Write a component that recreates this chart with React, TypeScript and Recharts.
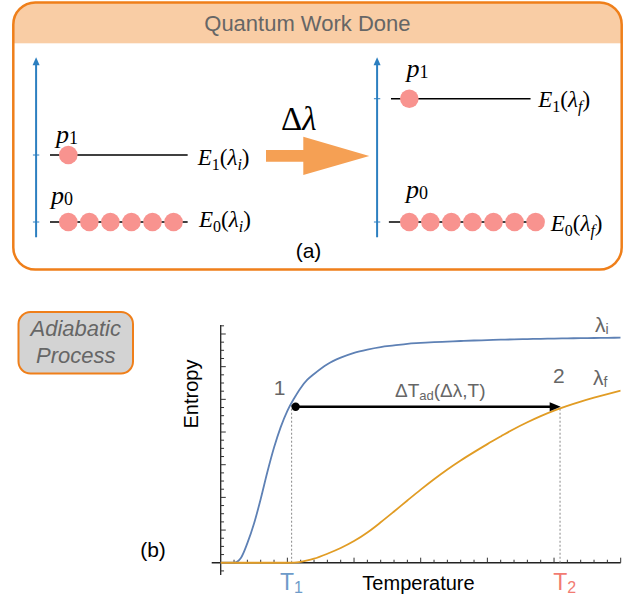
import { LineChart, Line, XAxis, YAxis, ReferenceLine, ReferenceDot, ScatterChart, Scatter } from "recharts";

// panel (b): temperature in minor-tick units, entropy in minor-tick units
const temperature = [0, 1, 1.5, 2, 2.5, 3, 3.5, 4, 4.5, 5, 5.5, 6, 6.5, 7, 8, 9, 10, 11, 12, 13, 14, 15, 16, 17, 18, 19, 20, 21, 22, 23, 24, 25, 26, 27, 28, 29, 30];
const entropyInitial = [0, 0, 0.55, 2.4, 4.8, 7.8, 11.1, 14.1, 16.6, 18.6, 20.1, 21.4, 22.4, 23.1, 24.3, 25.1, 25.7, 26.1, 26.4, 26.6, 26.8, 26.9, 27.0, 27.07, 27.14, 27.2, 27.25, 27.3, 27.34, 27.38, 27.41, 27.44, 27.47, 27.49, 27.51, 27.53, 27.55];
const entropyFinal = [0, 0, 0, 0, 0, 0, 0, 0, 0, 0, 0.02, 0.12, 0.28, 0.5, 1.1, 1.8, 2.65, 3.7, 4.95, 6.27, 7.62, 8.95, 10.22, 11.42, 12.52, 13.54, 14.52, 15.46, 16.38, 17.2, 17.95, 18.62, 19.2, 19.72, 20.2, 20.65, 21.08];

const xTicks = [1, 2, 3, 4, 5, 6, 7, 8, 9, 10, 11, 12, 13, 14, 15, 16, 17, 18, 19, 20, 21, 22, 23, 24, 25, 26, 27, 28, 29, 30];
const yTicks = [-1, 1, 2, 3, 4, 5, 6, 7, 8, 9, 10, 11, 12, 13, 14, 15, 16, 17, 18, 19, 20, 21, 22, 23, 24, 25, 26, 27, 28, 29];

// adiabatic step 1 -> 2
const t1 = 5.32;
const t2 = 25.45;
const s1 = 19.5;
const s2 = 18.9;
const sArrow = 19.09;
const arrowStart = 5.62;
const arrowEnd = 25.5;

// panel (a): two-level system
const initialEnergy = [0, 1];
const finalEnergy = [0, 1.84];
const initialPopulation = [6, 1];
const finalPopulation = [7, 1];

const SANS = "'Liberation Sans', Arial, sans-serif";
const SERIF = "'Liberation Serif', 'Times New Roman', serif";
const GRAY = "#666";
const ORANGE = "#EF7F1A";
const AXIS_BLUE = "#2C7FC0";

const rows = temperature.map((t, i) => ({ t, si: entropyInitial[i], sf: entropyFinal[i] }));

function Ball(props: any) {
  return <circle cx={props.cx} cy={props.cy} r={9.3} fill="#F8938F" />;
}

function UpHead(props: any) {
  const { cx, cy } = props;
  return <path d={`M${cx},${cy} L${cx - 3.5},${cy + 8} L${cx + 3.5},${cy + 8} Z`} fill={AXIS_BLUE} />;
}

function RightHead(props: any) {
  const { cx, cy } = props;
  return <path d={`M${cx},${cy} L${cx - 11},${cy - 4.5} L${cx - 11},${cy + 4.5} Z`} fill="#000" />;
}

function LevelDiagram({ energies, population, spans, left, marginLeft }: any) {
  const dots = energies.flatMap((e: number, k: number) =>
    Array.from({ length: population[k] }, (_, i) => ({ x: i, y: e }))
  );
  const axisX = -1.53;
  return (
    <div style={{ position: "absolute", left, top: 0 }}>
      <ScatterChart width={300} height={270} margin={{ top: 54.5, bottom: 31.25, left: marginLeft, right: 300 - marginLeft - 210.5 }}>
        <XAxis type="number" dataKey="x" domain={[-2, 8]} hide allowDataOverflow />
        <YAxis type="number" dataKey="y" domain={[-0.25, 2.5]} hide allowDataOverflow />
        <ReferenceLine segment={[{ x: axisX, y: -0.228 }, { x: axisX, y: 2.35 }]} stroke={AXIS_BLUE} strokeWidth={2} />
        <ReferenceDot x={axisX} y={2.458} r={4} shape={UpHead} />
        {energies.map((e: number, k: number) => (
          <ReferenceLine key={"tk" + k} segment={[{ x: axisX - 0.15, y: e }, { x: axisX + 0.15, y: e }]} stroke={AXIS_BLUE} strokeWidth={1} />
        ))}
        {energies.map((e: number, k: number) => (
          <ReferenceLine key={"lv" + k} segment={[{ x: spans[k][0], y: e }, { x: spans[k][1], y: e }]} stroke="#000" strokeWidth={1.5} />
        ))}
        <Scatter data={dots} shape={Ball} isAnimationActive={false} />
      </ScatterChart>
    </div>
  );
}

function LevelLabel({ x, y, n, arg }: { x: number; y: number; n: string; arg: string }) {
  return (
    <text x={x} y={y} fontFamily={SERIF} fontSize={23} fill="#000">
      <tspan fontStyle="italic">E</tspan>
      <tspan fontSize={16} dy={5}>{n}</tspan>
      <tspan dy={-5}>(</tspan>
      <tspan fontStyle="italic">λ</tspan>
      <tspan fontStyle="italic" fontSize={16} dy={5}>{arg}</tspan>
      <tspan dy={-5}>)</tspan>
    </text>
  );
}

function PLabel({ x, y, n }: { x: number; y: number; n: string }) {
  return (
    <text x={x} y={y} fontFamily={SERIF} fontSize={26} fill="#000">
      <tspan fontStyle="italic">p</tspan>
      <tspan fontSize={18} dy={1}>{n}</tspan>
    </text>
  );
}

export default function App() {
  return (
    <div style={{ position: "absolute", left: 0, top: 0, width: 634, height: 601, background: "#fff", overflow: "hidden" }}>
      <svg width={634} height={601} style={{ position: "absolute", left: 0, top: 0 }}>
        <defs>
          <clipPath id="boxClip">
            <rect x={13.3} y={2.5} width={608.4} height={267} rx={22} />
          </clipPath>
        </defs>
        <rect x={13.3} y={2.5} width={608.4} height={267} rx={22} fill="#fff" />
        <rect x={0} y={0} width={634} height={43.3} fill="#F9CDA5" clipPath="url(#boxClip)" />
        <rect x={13.3} y={2.5} width={608.4} height={267} rx={22} fill="none" stroke={ORANGE} strokeWidth={2.5} />
        <text x={307.4} y={31} textAnchor="middle" fontFamily={SANS} fontSize={22} fill={GRAY}>Quantum Work Done</text>

        <polygon points="266,150 303.3,150 303.3,136.7 369.3,156 303.3,175 303.3,161.7 266,161.7" fill="#F5A054" />
        <text x={281} y={130} fontFamily={SERIF} fontSize={33} fill="#000">
          <tspan>Δ</tspan>
          <tspan fontStyle="italic">λ</tspan>
        </text>

        <PLabel x={56} y={143.3} n="1" />
        <PLabel x={51} y={204.3} n="0" />
        <LevelLabel x={197.7} y={165} n="1" arg="i" />
        <LevelLabel x={199} y={227} n="0" arg="i" />
        <PLabel x={406.5} y={77.3} n="1" />
        <PLabel x={406} y={198.3} n="0" />
        <LevelLabel x={538.3} y={106.5} n="1" arg="f" />
        <LevelLabel x={550.7} y={231} n="0" arg="f" />
        <text x={308.5} y={258} textAnchor="middle" fontFamily={SANS} fontSize={21} fill="#000">(a)</text>

        <rect x={18.5} y={312} width={114.5} height={61.5} rx={12} fill="#D3D3D3" stroke={ORANGE} strokeWidth={2} />
        <text x={75.75} y={336} textAnchor="middle" fontFamily={SANS} fontSize={22} fontStyle="italic" fill={GRAY}>Adiabatic</text>
        <text x={75.75} y={363} textAnchor="middle" fontFamily={SANS} fontSize={22} fontStyle="italic" fill={GRAY}>Process</text>
        <text x={153} y={557} textAnchor="middle" fontFamily={SANS} fontSize={21} fill="#000">(b)</text>

        <text transform="translate(197.5,394) rotate(-90)" textAnchor="middle" fontFamily={SANS} fontSize={20} fill="#000">Entropy</text>
        <text x={418.5} y={590} textAnchor="middle" fontFamily={SANS} fontSize={20} fill="#000">Temperature</text>
        <text x={280} y={590.3} fontFamily={SANS} fontSize={23} fill="#6E9BC9">
          <tspan>T</tspan>
          <tspan fontSize={16} dy={3}>1</tspan>
        </text>
        <text x={553.3} y={590.3} fontFamily={SANS} fontSize={23} fill="#F27B72">
          <tspan>T</tspan>
          <tspan fontSize={16} dy={3}>2</tspan>
        </text>
        <text x={279.5} y={395} textAnchor="middle" fontFamily={SANS} fontSize={21} fill={GRAY}>1</text>
        <text x={558.8} y={383.3} textAnchor="middle" fontFamily={SANS} fontSize={21} fill={GRAY}>2</text>
        <text x={595} y={332} fontFamily={SANS} fontSize={21} fill={GRAY}>
          <tspan>λ</tspan>
          <tspan fontSize={14} dy={2}>i</tspan>
        </text>
        <text x={593} y={385} fontFamily={SANS} fontSize={21} fill={GRAY}>
          <tspan>λ</tspan>
          <tspan fontSize={14} dy={2}>f</tspan>
        </text>
        <text x={395} y={397} fontFamily={SANS} fontSize={19} fill={GRAY}>
          <tspan>ΔT</tspan>
          <tspan fontSize={13} dy={3}>ad</tspan>
          <tspan dy={-3}>(Δλ,T)</tspan>
        </text>
      </svg>

      <LevelDiagram energies={initialEnergy} population={initialPopulation} spans={[[-0.87, 5.67], [-0.87, 5.67]]} left={0} marginLeft={26.2} />
      <LevelDiagram energies={finalEnergy} population={finalPopulation} spans={[[-0.97, 6.22], [-0.87, 5.76]]} left={320} marginLeft={47.2} />

      <div style={{ position: "absolute", left: 0, top: 290 }}>
        <LineChart width={634} height={311} data={rows} margin={{ top: 35, right: 13.3, bottom: 26, left: 211.7 }}>
          <XAxis type="number" dataKey="t" domain={[-0.675, 30]} hide allowDataOverflow />
          <YAxis type="number" domain={[-1.5, 29.1]} hide allowDataOverflow />
          <ReferenceLine segment={[{ x: -0.675, y: 0 }, { x: 30, y: 0 }]} stroke="#222" strokeWidth={1.3} />
          <ReferenceLine segment={[{ x: 0, y: -1.5 }, { x: 0, y: 29.1 }]} stroke="#222" strokeWidth={1.3} />
          {xTicks.map((t) => (
            <ReferenceLine key={"x" + t} segment={[{ x: t, y: 0 }, { x: t, y: t % 5 === 0 ? 0.62 : 0.37 }]} stroke="#333" strokeWidth={1} />
          ))}
          {yTicks.map((s) => (
            <ReferenceLine key={"y" + s} segment={[{ x: 0, y: s }, { x: s % 4 === 0 ? 0.38 : 0.25, y: s }]} stroke="#333" strokeWidth={1} />
          ))}
          <ReferenceLine segment={[{ x: t1, y: 0 }, { x: t1, y: s1 }]} stroke="#888" strokeDasharray="2 2" strokeWidth={1} />
          <ReferenceLine segment={[{ x: t2, y: 0 }, { x: t2, y: s2 }]} stroke="#888" strokeDasharray="2 2" strokeWidth={1} />
          <Line dataKey="si" type="monotone" stroke="#5E81B5" strokeWidth={1.8} dot={false} isAnimationActive={false} />
          <Line dataKey="sf" type="monotone" stroke="#E19C24" strokeWidth={1.8} dot={false} isAnimationActive={false} />
          <ReferenceLine segment={[{ x: arrowStart, y: sArrow }, { x: arrowEnd - 0.75, y: sArrow }]} stroke="#000" strokeWidth={2.6} />
          <ReferenceDot x={arrowStart} y={sArrow} r={4.2} fill="#000" stroke="none" />
          <ReferenceDot x={arrowEnd} y={sArrow} r={4} shape={RightHead} />
        </LineChart>
      </div>
    </div>
  );
}
